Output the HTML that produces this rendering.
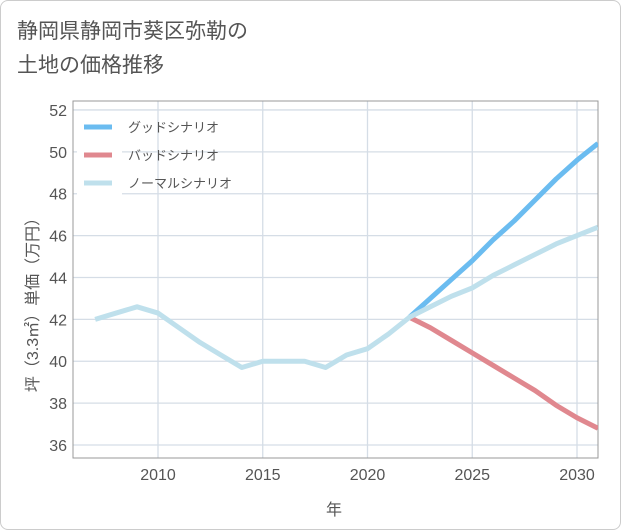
<!DOCTYPE html>
<html><head><meta charset="utf-8"><style>
body{margin:0;background:#fff;font-family:"Liberation Sans","Noto Sans CJK JP",sans-serif;}
#wrap{position:relative;width:619px;height:528px;border:1px solid #ccc;border-radius:8px;overflow:hidden;}
#title{position:absolute;left:16px;top:14px;font-size:21px;line-height:34px;color:#555;}
svg{position:absolute;left:0;top:0;}
</style></head><body>
<div id="wrap">
<div id="title">静岡県静岡市葵区弥勒の<br>土地の価格推移</div>
<svg id="chart" width="621" height="530"></svg>
</div>
<script>
const years=[2007,2008,2009,2010,2011,2012,2013,2014,2015,2016,2017,2018,2019,2020,2021,2022,2023,2024,2025,2026,2027,2028,2029,2030,2031];
const normal=[42.0,42.3,42.6,42.3,41.6,40.9,40.3,39.7,40.0,40.0,40.0,39.7,40.3,40.6,41.3,42.1,42.6,43.1,43.5,44.1,44.6,45.1,45.6,46.0,46.4];
const futYears=[2022,2023,2024,2025,2026,2027,2028,2029,2030,2031];
const good=[42.1,43.0,43.9,44.8,45.8,46.7,47.7,48.7,49.6,50.4];
const bad=[42.1,41.6,41.0,40.4,39.8,39.2,38.6,37.9,37.3,36.8];
const yTicks=[36,38,40,42,44,46,48,50,52];
const xTicks=[2010,2015,2020,2025,2030];
const L=72,R=597,T=100,B=457;
const xs=y=>157+(y-2010)*20.95;
const ys=v=>444-(v-36)*20.94;
const svg=document.getElementById('chart');
const NS='http://www.w3.org/2000/svg';
function mk(tag,attrs){const e=document.createElementNS(NS,tag);for(const k in attrs)e.setAttribute(k,attrs[k]);svg.appendChild(e);return e;}
yTicks.forEach(v=>{
 const l=mk('line',{x1:L,x2:R,y1:ys(v),y2:ys(v),stroke:'#d5dde6','stroke-width':1.3});
 
 
 const t=mk('text',{x:L-6,y:ys(v)+6,'text-anchor':'end','font-size':16,fill:'#555'});
 t.textContent=v;
 
 
});
xTicks.forEach(v=>{
 const l=mk('line',{x1:xs(v),x2:xs(v),y1:T,y2:B,stroke:'#d5dde6','stroke-width':1.3});
 
 
 const t=mk('text',{x:xs(v),y:B+22,'text-anchor':'middle','font-size':16,fill:'#555'});
 t.textContent=v;
 
 
});
const fr=mk('rect',{x:L,y:T,width:R-L,height:B-T,fill:'none',stroke:'#999','stroke-width':1});


const cp=mk('clipPath',{id:'cp'});
const cr=document.createElementNS(NS,'rect');cr.setAttribute('x',L);cr.setAttribute('y',T);cr.setAttribute('width',R-L);cr.setAttribute('height',B-T);cp.appendChild(cr);
function line(xv,yv,color,name){
 const p=mk('polyline',{points:xv.map((x,i)=>xs(x)+','+ys(yv[i])).join(' '),fill:'none',stroke:color,'stroke-width':5,'stroke-linejoin':'round','clip-path':'url(#cp)'});
 
 
}
line(futYears,bad,'#e0888f','bad-scenario-line');
line(futYears,good,'#6bbcf0','good-scenario-line');
line(years,normal,'#bfe0ec','normal-scenario-line');
const leg=[['グッドシナリオ','#6bbcf0'],['バッドシナリオ','#e0888f'],['ノーマルシナリオ','#bfe0ec']];
const lb=mk('rect',{x:76,y:110,width:45,height:85,fill:'#fff'});


leg.forEach((d,i)=>{
 const y=126+i*28;
 const s=mk('line',{x1:83,x2:111,y1:y,y2:y,stroke:d[1],'stroke-width':5});
 
 
 const t=mk('text',{x:127,y:y+5,'font-size':13,fill:'#555'});
 t.textContent=d[0];
 
 
});
const xt=mk('text',{x:333,y:514,'text-anchor':'middle','font-size':16,fill:'#555'});
xt.textContent='年';


const yt=mk('text',{x:0,y:0,'text-anchor':'middle','font-size':16,fill:'#555',transform:'translate(37,300) rotate(-90)'});
yt.textContent='坪（3.3㎡）単価（万円）';


</script>
</body></html>
